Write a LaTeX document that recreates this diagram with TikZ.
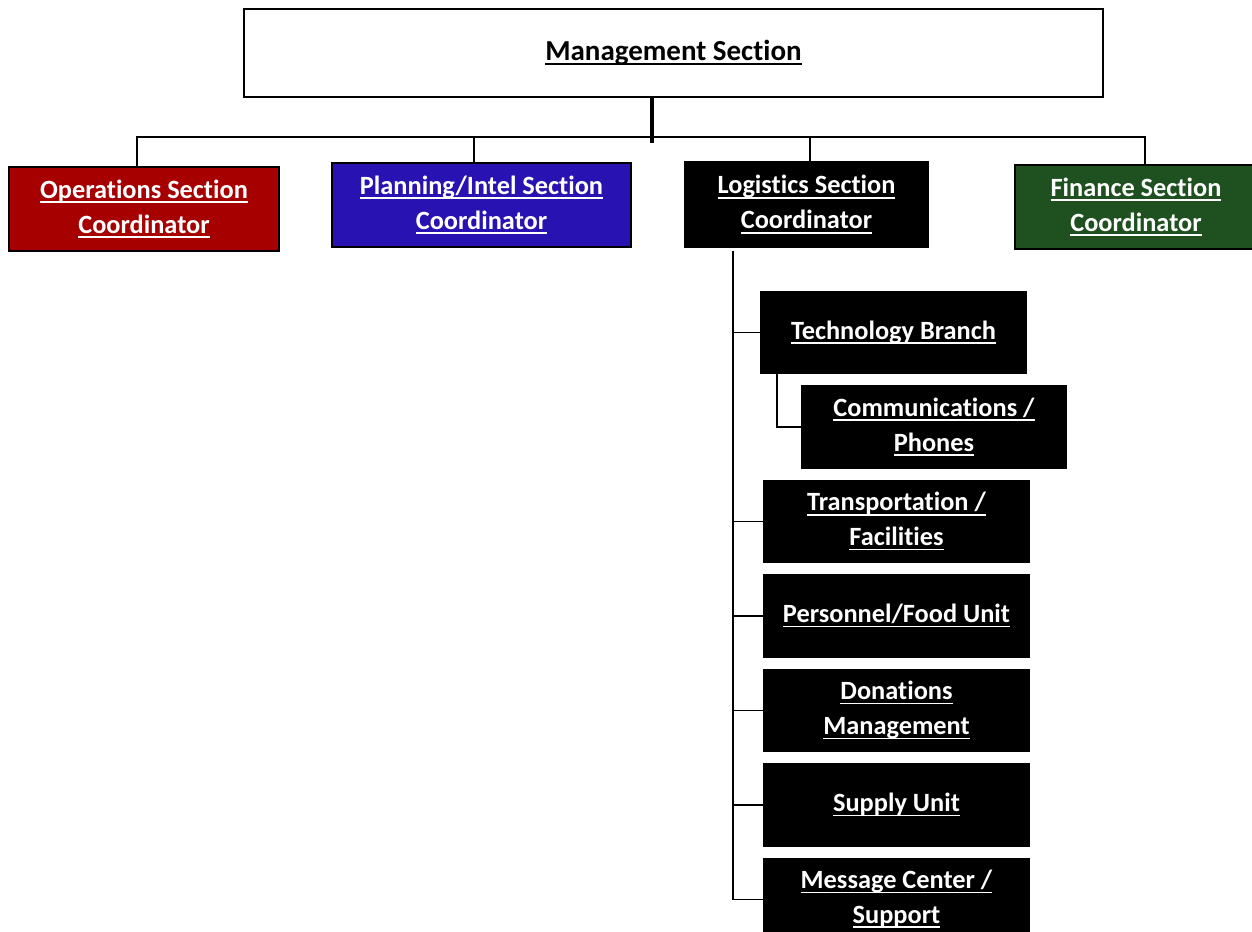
\documentclass[tikz,border=0pt]{standalone}
\usepackage{fontspec}
\setmainfont{Carlito}[Ligatures=NoCommon]
\usetikzlibrary{positioning}

\definecolor{opsred}{RGB}{166,0,0}
\definecolor{planblue}{RGB}{40,18,178}
\definecolor{fingreen}{RGB}{30,80,32}

% underline sitting just under the baseline
\newcommand{\ulbl}[1]{\leavevmode\setbox0\hbox{#1}\rlap{\rule[-2.6pt]{\wd0}{1.1pt}}\box0}

\begin{document}
\begin{tikzpicture}[x=0.02cm,y=-0.02cm,node distance=1.89cm,
            section node/.style={draw=black,line width=0.8pt,text=white,align=center,
              inner sep=0pt,minimum height=1.68cm,font=\fontsize{15}{19.9}\selectfont\bfseries},
            unit node/.style={section node,fill=black,minimum width=5.3cm,minimum height=1.64cm},
            tie/.style={draw=black,line width=0.6pt}]

        \fill[white] (0,0) rectangle (1252,932);
        \useasboundingbox (0,0) rectangle (1252,932);

        % Define vertices
        \node[draw=black,line width=0.8pt,minimum width=17.18cm,minimum height=1.76cm,
              font=\fontsize{16.5}{20}\selectfont\bfseries] (mgmt) at (673.5,53) {\ulbl{Management Section}};

        \node[section node,fill=opsred,minimum width=5.4cm] (ops) at (144,209)
            {\ulbl{Operations Section}\\\ulbl{Coordinator}};
        \node[section node,fill=planblue,minimum width=5.98cm] (plan) at (481.5,205)
            {\ulbl{Planning/Intel Section}\\\ulbl{Coordinator}};
        \node[section node,fill=black,minimum width=4.86cm,minimum height=1.7cm] (log) at (806.5,204.5)
            {\ulbl{Logistics Section}\\\ulbl{Coordinator}};
        \node[section node,fill=fingreen,minimum width=4.84cm] (fin) at (1136,207)
            {\ulbl{Finance Section}\\\ulbl{Coordinator}};

        \node[unit node] (tech) at (893.5,332.5) {\ulbl{Technology Branch}};
        \node[unit node] (comm) [below of=tech,xshift=0.81cm] {\ulbl{Communications /}\\\ulbl{Phones}};
        \node[unit node] (trans) [below of=comm,xshift=-0.75cm] {\ulbl{Transportation /}\\\ulbl{Facilities}};
        \node[unit node] (pers) [below of=trans] {\ulbl{Personnel/Food Unit}};
        \node[unit node] (don) [below of=pers] {\ulbl{Donations}\\\ulbl{Management}};
        \node[unit node] (supply) [below of=don] {\ulbl{Supply Unit}};
        \node[unit node] (msg) [below of=supply] {\ulbl{Message Center /}\\\ulbl{Support}};

        \coordinate (bus) at (652,137);
        \coordinate (spine) at ([xshift=-1.47cm,yshift=-0.06cm]log.south);

        % Draw edges
        \draw[line width=2pt] (mgmt.south -| bus) -- ([yshift=-0.12cm]bus);
        \draw[tie] ([xshift=-0.14cm]ops.north) |- ([xshift=0.18cm]fin.north |- bus) -- ([xshift=0.18cm]fin.north);
        \draw[tie] ([xshift=-0.15cm]plan.north) -- ([xshift=-0.15cm]plan.north |- bus);
        \draw[tie] ([xshift=0.07cm]log.north) -- ([xshift=0.07cm]log.north |- bus);

        \draw[tie,line width=0.8pt] (spine) |- (msg.west);
        \foreach \u in {tech,trans,pers,don,supply}
            \draw[tie,line width=0.8pt] (\u.west) -- (\u.west -| spine);
        \draw[tie,line width=0.8pt] ([xshift=-2.33cm]tech.south) |- (comm.west);

        \end{tikzpicture}
\end{document}
